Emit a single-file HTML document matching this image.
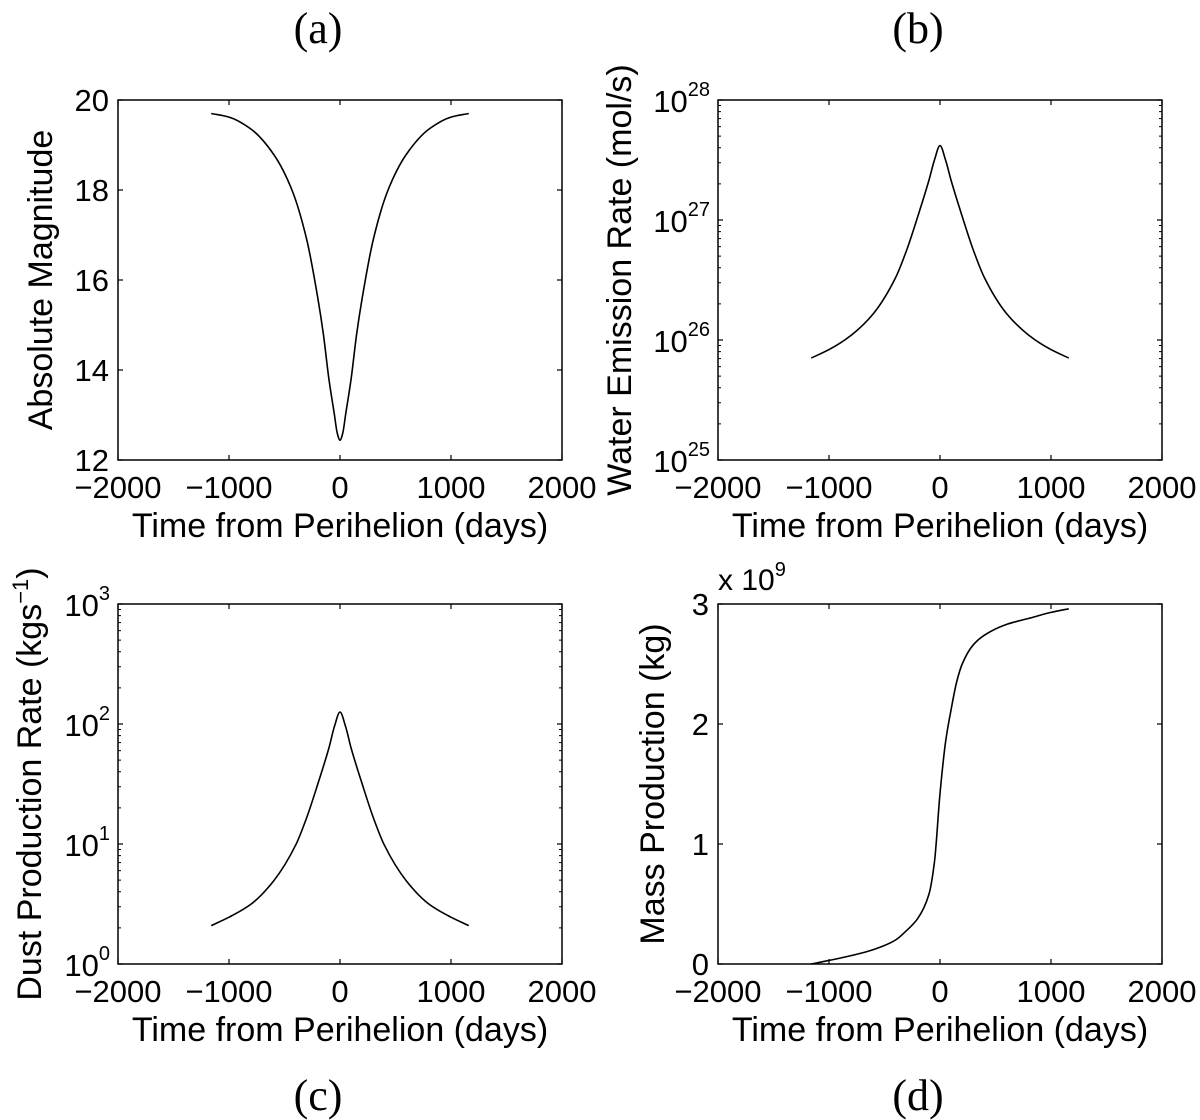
<!DOCTYPE html>
<html><head><meta charset="utf-8"><style>
body{margin:0;background:#fff;}
svg{display:block;font-family:"Liberation Sans",sans-serif;}
</style></head><body>
<svg id="fig" width="1200" height="1120" viewBox="0 0 1200 1120"></svg>
<script>
const timeA=[-1160,-1000,-800,-600,-433,-300,-200,-150,-100,-50,-25,0,25,50,100,150,200,300,433,600,800,1000,1160];
const magA=[19.70,19.62,19.35,18.8,18.0,16.9,15.6,14.8,13.8,13.0,12.6,12.44,12.6,13.0,13.8,14.8,15.6,16.9,18.0,18.8,19.35,19.62,19.70];
const timeB=[-1160,-1000,-800,-600,-400,-300,-200,-100,-50,0,50,100,200,300,400,600,800,1000,1160];
const logWaterB=[25.85,25.92,26.04,26.22,26.52,26.75,27.03,27.33,27.5,27.62,27.5,27.33,27.03,26.75,26.52,26.22,26.04,25.92,25.85];
const timeC=[-1160,-1000,-800,-600,-400,-300,-200,-100,-50,0,50,100,200,300,400,600,800,1000,1160];
const logDustC=[0.32,0.39,0.5,0.69,0.99,1.22,1.5,1.8,1.98,2.1,1.98,1.8,1.5,1.22,0.99,0.69,0.5,0.39,0.32];
const timeD=[-1160,-800,-600,-400,-300,-200,-100,-50,0,50,100,150,200,300,400,600,800,1000,1160];
const massD=[0,0.07,0.12,0.2,0.28,0.38,0.58,0.85,1.42,1.85,2.12,2.35,2.5,2.66,2.74,2.83,2.88,2.93,2.96];
const xTicks=[-2000,-1000,0,1000,2000];
const xTickLabels=["\u22122000","\u22121000","0","1000","2000"];
const linTicksA=[12,14,16,18,20];
const logTicksB=[25,26,27,28];
const logTicksC=[0,1,2,3];
const linTicksD=[0,1,2,3];

const NS="http://www.w3.org/2000/svg";
const svg=document.getElementById('fig');
function mk(tag,attrs,parent){const e=document.createElementNS(NS,tag);for(const k in attrs)e.setAttribute(k,attrs[k]);(parent||svg).appendChild(e);return e;}
function txt(s,attrs,parent){const t=mk('text',attrs,parent);t.textContent=s;return t;}

function monotonePath(X,Y){
  const n=X.length,dx=[],m=[],t=new Array(n);
  for(let i=0;i<n-1;i++){dx.push(X[i+1]-X[i]);m.push((Y[i+1]-Y[i])/(X[i+1]-X[i]));}
  t[0]=m[0];t[n-1]=m[n-2];
  for(let i=1;i<n-1;i++){
    if(m[i-1]*m[i]<=0)t[i]=0;
    else{const w1=2*dx[i]+dx[i-1],w2=dx[i]+2*dx[i-1];t[i]=(w1+w2)/(w1/m[i-1]+w2/m[i]);}
  }
  let d=`M${X[0]},${Y[0]}`;
  for(let i=0;i<n-1;i++){
    const h=dx[i]/3;
    d+=` C${X[i]+h},${Y[i]+t[i]*h} ${X[i+1]-h},${Y[i+1]-t[i+1]*h} ${X[i+1]},${Y[i+1]}`;
  }
  return d;
}

function panel(cfg){
  const g=mk('g',{});
  
  
  const L=cfg.L,R=L+444,T=cfg.T,B=T+360;
  const sx=v=>L+(v+2000)/4000*(R-L);
  const sy=v=>B-(v-cfg.ymin)/(cfg.ymax-cfg.ymin)*(B-T);
  const box=mk('rect',{x:L,y:T,width:R-L,height:B-T,fill:'none',stroke:'#000','stroke-width':1.5},g);
  
  
  xTicks.forEach((v,i)=>{
    const x=sx(v);
    mk('line',{x1:x,y1:B,x2:x,y2:B-5,stroke:'#000','stroke-width':1.2},g);
    mk('line',{x1:x,y1:T,x2:x,y2:T+5,stroke:'#000','stroke-width':1.2},g);
    const t=txt(xTickLabels[i],{x:x,y:B+38,'font-size':31,'text-anchor':'middle'},g);
    
    
  });
  cfg.yticks.forEach(v=>{
    const y=sy(v);
    mk('line',{x1:L,y1:y,x2:L+5,y2:y,stroke:'#000','stroke-width':1.2},g);
    mk('line',{x1:R,y1:y,x2:R-5,y2:y,stroke:'#000','stroke-width':1.2},g);
    let t;
    if(cfg.log){
      t=mk('text',{x:L-8,y:y+12,'font-size':31,'text-anchor':'end'},g);
      t.innerHTML=`10<tspan dy="-16" font-size="20">${v}</tspan>`;
      if(v<cfg.ymax){for(let m=2;m<10;m++){const yy=sy(v+Math.log10(m));
        mk('line',{x1:L,y1:yy,x2:L+3,y2:yy,stroke:'#000','stroke-width':1},g);
        mk('line',{x1:R,y1:yy,x2:R-3,y2:yy,stroke:'#000','stroke-width':1},g);}}
    } else {
      t=txt(String(v),{x:L-9,y:y+11,'font-size':31,'text-anchor':'end'},g);
    }
    
    
  });
  const xt=txt('Time from Perihelion (days)',{x:(L+R)/2,y:B+77,'font-size':34,'text-anchor':'middle'},g);
  
  
  const yt=mk('text',{x:0,y:0,'font-size':34,'text-anchor':'middle',transform:`translate(${cfg.ylx},${(T+B)/2}) rotate(-90)`},g);
  yt.innerHTML=cfg.ylabel;
  
  
  const X=cfg.xs.map(sx),Y=cfg.ys.map(sy);
  const p=mk('path',{d:monotonePath(X,Y),fill:'none',stroke:'#000','stroke-width':1.6},g);
  
  
  const pl=txt(cfg.plabel,{x:(L+R)/2-22,y:cfg.ply,'font-size':44,'text-anchor':'middle','font-family':'Liberation Serif, serif'},g);
  
  
  return g;
}
panel({name:'panel-a-magnitude',L:118,T:100,ymin:12,ymax:20,yticks:linTicksA,log:false,xs:timeA,ys:magA,ylabel:'Absolute Magnitude',ylx:52,plabel:'(a)',ply:43});
panel({name:'panel-b-water',L:718,T:100,ymin:25,ymax:28,yticks:logTicksB,log:true,xs:timeB,ys:logWaterB,ylabel:'Water Emission Rate (mol/s)',ylx:631,plabel:'(b)',ply:43});
panel({name:'panel-c-dust',L:118,T:604,ymin:0,ymax:3,yticks:logTicksC,log:true,xs:timeC,ys:logDustC,ylabel:'Dust Production Rate (kgs<tspan dy="-13" font-size="22">\u22121</tspan><tspan dy="13">)</tspan>',ylx:41,plabel:'(c)',ply:1110});
panel({name:'panel-d-mass',L:718,T:604,ymin:0,ymax:3,yticks:linTicksD,log:false,xs:timeD,ys:massD,ylabel:'Mass Production (kg)',ylx:664,plabel:'(d)',ply:1110});
const ex=mk('text',{x:718,y:590,'font-size':30},svg);
ex.innerHTML='x 10<tspan dy="-14" font-size="20">9</tspan>';


</script>
</body></html>
